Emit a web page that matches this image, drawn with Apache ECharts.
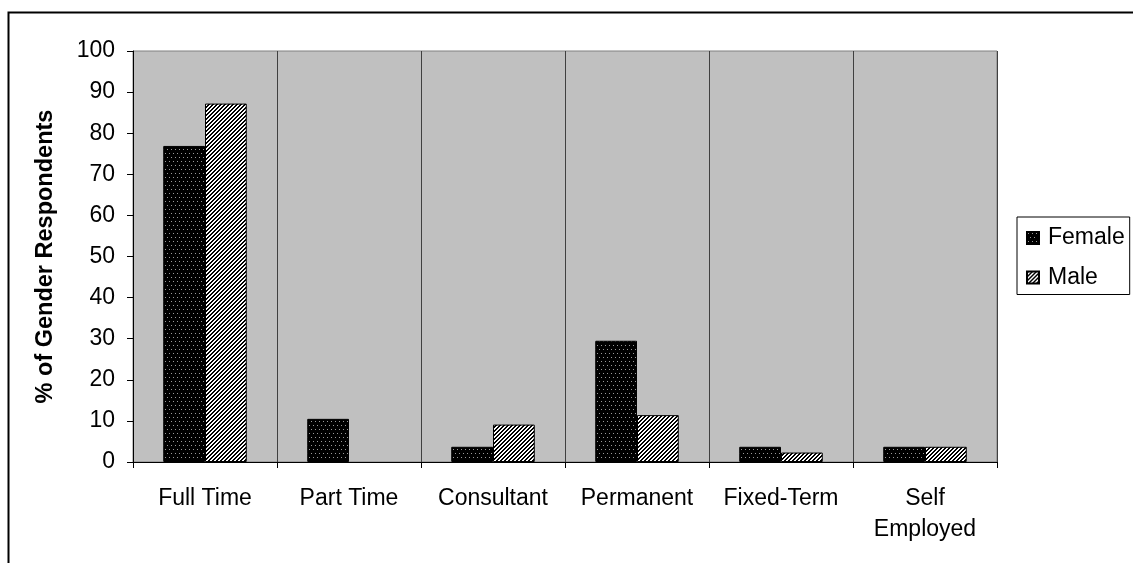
<!DOCTYPE html>
<html>
<head>
<meta charset="utf-8">
<script src="https://cdn.jsdelivr.net/npm/echarts@6/dist/echarts.min.js"></script>
<style>
html,body{margin:0;padding:0;background:#fff;}
#chart{width:1133px;height:563px;}
</style>
</head>
<body>
<div id="chart"></div>
<script>
const categories = ['Full Time', 'Part Time', 'Consultant', 'Permanent', 'Fixed-Term', 'Self\nEmployed'];
const femaleValues = [76.9, 10.5, 3.7, 29.5, 3.7, 3.7];
const maleValues = [87.2, 0, 9.1, 11.4, 2.3, 3.7];
const yTicks = {min: 0, max: 100, interval: 10};

function dotPattern() {
  const c = document.createElement('canvas');
  c.width = 8; c.height = 8;
  const g = c.getContext('2d');
  g.fillStyle = '#000'; g.fillRect(0, 0, 8, 8);
  g.fillStyle = '#9a9a9a';
  g.fillRect(1, 1, 1, 1); g.fillRect(5, 1, 1, 1);
  g.fillRect(3, 5, 1, 1); g.fillRect(7, 5, 1, 1);
  return c;
}
function stripePattern() {
  const c = document.createElement('canvas');
  c.width = 8; c.height = 8;
  const g = c.getContext('2d');
  g.fillStyle = '#fff'; g.fillRect(0, 0, 8, 8);
  g.fillStyle = '#000';
  for (let x = 0; x < 8; x++) for (let y = 0; y < 8; y++) {
    if ((x + y) % 4 < 2) g.fillRect(x, y, 1, 1);
  }
  return c;
}
// zero values are drawn as no bar at all, like the original
const noZero = v => (v === 0 ? null : v);

const chart = echarts.init(document.getElementById('chart'), null, {renderer: 'canvas'});
const font = 'Liberation Sans, Arial, sans-serif';
chart.setOption({
  animation: false,
  backgroundColor: '#fff',
  textStyle: {fontFamily: font},
  graphic: [{
    type: 'polyline',
    shape: {points: [[8.5, 563], [8.5, 12.5], [1133, 12.5]]},
    style: {stroke: '#000', lineWidth: 2, fill: null}
  }],
  legend: {
    orient: 'vertical',
    left: 1017, top: 217,
    padding: [8, 5, 4, 9],
    itemGap: 13.5,
    itemWidth: 12, itemHeight: 12,
    icon: 'rect',
    borderColor: '#000', borderWidth: 1,
    textStyle: {fontSize: 23, lineHeight: 26, color: '#000', fontFamily: font, padding: [0, 0, 0, 4]},
    data: ['Female', 'Male']
  },
  grid: {
    left: 133, top: 51, width: 864, height: 411,
    show: true, backgroundColor: '#C0C0C0', borderColor: '#808080', borderWidth: 1
  },
  xAxis: {
    type: 'category',
    data: categories,
    axisLine: {lineStyle: {color: '#000', width: 1}},
    axisTick: {show: true, length: 6, lineStyle: {color: '#000'}},
    axisLabel: {fontSize: 23, color: '#000', margin: 21, lineHeight: 31, fontFamily: font, interval: 0},
    splitLine: {show: true, lineStyle: {color: '#404040', width: 1}}
  },
  yAxis: {
    type: 'value',
    min: yTicks.min, max: yTicks.max, interval: yTicks.interval,
    name: '% of Gender Respondents',
    nameLocation: 'middle',
    nameGap: 75,
    nameTextStyle: {fontSize: 23.5, fontWeight: 'bold', color: '#000', fontFamily: font},
    axisLine: {show: true, lineStyle: {color: '#000', width: 1}},
    axisTick: {show: true, length: 6, lineStyle: {color: '#000'}},
    axisLabel: {fontSize: 23, color: '#000', margin: 18, fontFamily: font},
    splitLine: {show: false}
  },
  series: [
    {
      name: 'Female', type: 'bar', data: femaleValues.map(noZero),
      barGap: '0%', barCategoryGap: '42%',
      itemStyle: {color: {image: dotPattern(), repeat: 'repeat'}, borderColor: '#000', borderWidth: 1}
    },
    {
      name: 'Male', type: 'bar', data: maleValues.map(noZero),
      barGap: '0%', barCategoryGap: '42%',
      itemStyle: {color: {image: stripePattern(), repeat: 'repeat'}, borderColor: '#000', borderWidth: 1}
    }
  ]
});
</script>
</body>
</html>
